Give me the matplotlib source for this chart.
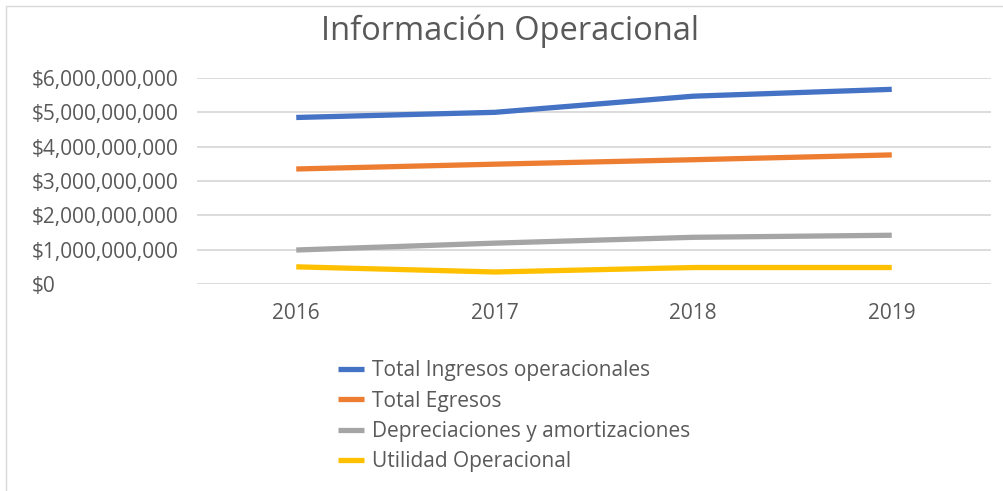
import matplotlib.pyplot as plt
from matplotlib.patches import Rectangle
from matplotlib.ticker import FuncFormatter

plt.rcParams["font.family"] = ["Open Sans", "DejaVu Sans"]

years = ["2016", "2017", "2018", "2019"]
ingresos = [4.85e9, 5.00e9, 5.47e9, 5.67e9]
egresos = [3.35e9, 3.49e9, 3.62e9, 3.76e9]
depreciaciones = [0.99e9, 1.19e9, 1.36e9, 1.42e9]
utilidad = [0.50e9, 0.35e9, 0.48e9, 0.48e9]

series = [
    ("Total Ingresos operacionales", ingresos, "#4472C4"),
    ("Total Egresos", egresos, "#ED7D31"),
    ("Depreciaciones y amortizaciones", depreciaciones, "#A5A5A5"),
    ("Utilidad Operacional", utilidad, "#FFC000"),
]

text_color = "#595959"

fig = plt.figure(figsize=(10.04, 4.91), dpi=100)
fig.patches.append(Rectangle((6 / 1004, -0.1), 1.2, 1.1 - 6 / 491,
                             transform=fig.transFigure, fill=False,
                             edgecolor="#D9D9D9", linewidth=1))

ax = fig.add_axes([197 / 1004, 1 - 284 / 491, 794 / 1004, 206 / 491])
x = range(len(years))
for label, vals, color in series:
    ax.plot(x, vals, color=color, lw=3.8, label=label, solid_capstyle="butt")

ax.set_xlim(-0.5, 3.5)
ax.set_ylim(0, 6e9)
ax.set_yticks([i * 1e9 for i in range(7)])
ax.yaxis.set_major_formatter(FuncFormatter(lambda v, p: "${:,.0f}".format(v)))
ax.set_xticks(list(x))
ax.set_xticklabels(years)
ax.grid(axis="y", color="#D9D9D9", lw=1.3)
ax.set_axisbelow(True)
for s in ax.spines.values():
    s.set_visible(False)
ax.tick_params(length=0, labelsize=15, colors=text_color)
# left-aligned dollar labels, like excel
ax.tick_params(axis="y", pad=(197 - 32) * 0.72)
for t in ax.get_yticklabels():
    t.set_horizontalalignment("left")
ax.tick_params(axis="x", pad=14)

fig.text(0.508, 1 - 31 / 491, "Información Operacional", ha="center", va="center",
         fontsize=23.5, color=text_color)

handles, labels = ax.get_legend_handles_labels()
fig.legend(handles, labels, loc="upper left", bbox_to_anchor=(330 / 1004, 1 - 352 / 491),
           frameon=False, fontsize=15, labelcolor=text_color, handlelength=1.25,
           handletextpad=0.35, labelspacing=0.45, borderaxespad=0)

fig.savefig("out.png", dpi=100)
